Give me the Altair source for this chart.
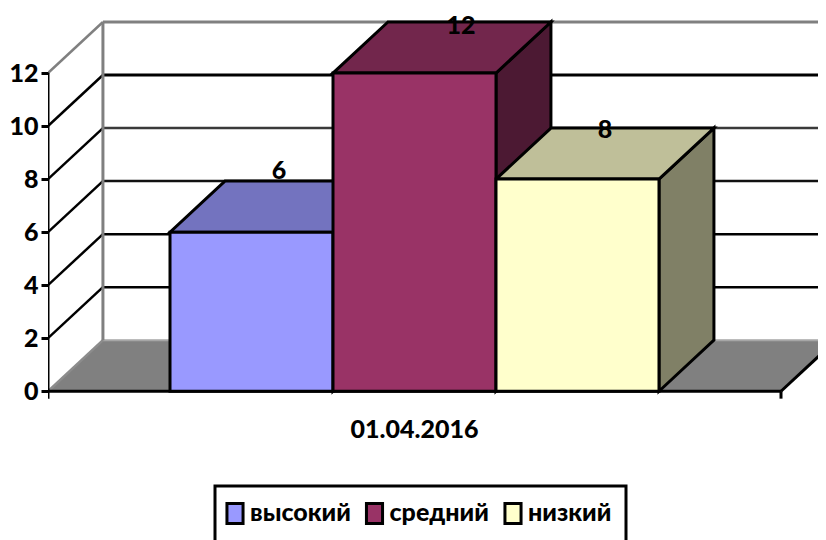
import altair as alt
import pandas as pd

categories = ["высокий", "средний", "низкий"]
values = [6, 12, 8]
front_colors = ["#9999FF", "#993366", "#FFFFCC"]
top_colors = ["#7373BF", "#72264C", "#BFBF99"]
side_colors = ["#4C4C80", "#4C1933", "#808066"]
label_lift = [2.30, 1.77, 1.85]
label_shift = [0.0, 0.117, 0.0]
date_label = "01.04.2016"
levels = [0, 2, 4, 6, 8, 10, 12]
back_line_colors = ["#A6A6A6", "#000000", "#000000", "#111111", "#3A3A3A", "#000000", "#808080"]
back_line_widths = [2, 2.5, 2.5, 2.5, 2.5, 3, 3]
side_line_colors = ["#8C8C8C", "#000000", "#000000", "#000000", "#000000", "#000000", "#808080"]

FONT = "Lato"
FS = 25
WEIGHT = 900
X_MIN, X_END, X_CLIP = -0.7485, 3.7485, 3.9755
Y_MIN, Y_MAX = -1.5, 14.34
DX, DY = 0.337, 1.925
x_scale = alt.Scale(domain=[X_MIN, X_CLIP], nice=False, zero=False)
y_scale = alt.Scale(domain=[Y_MIN, Y_MAX], nice=False, zero=False)
y_axis = alt.Axis(values=levels, title=None, domain=False, grid=False, zindex=1,
                  tickColor="#000000", tickWidth=3, tickSize=7, labelPadding=3,
                  labelFont=FONT, labelFontWeight=WEIGHT, labelFontSize=FS, labelColor="#000000")

X = lambda f="x": alt.X(f"{f}:Q", scale=x_scale, axis=None)
Y = lambda f="y": alt.Y(f"{f}:Q", scale=y_scale, axis=y_axis, stack=None)

# floor
floor = pd.DataFrame({"y": [0, DY], "x": [X_MIN, X_MIN + DX], "x2": [X_END, X_END + DX]})
floor_layer = alt.Chart(floor).mark_area(orient="horizontal", color="#808080", clip=True).encode(
    y=Y(), x=X(), x2=alt.X2("x2:Q"))

# walls and lines
rows = []
for lv, bc, bw, sc in zip(levels, back_line_colors, back_line_widths, side_line_colors):
    rows.append(dict(x=X_MIN + DX, x2=X_CLIP + 0.1, y=lv + DY, y2=lv + DY, c=bc, w=bw))
    rows.append(dict(x=X_MIN, x2=X_MIN + DX, y=lv, y2=lv + DY, c=sc, w=2.5))
rows.append(dict(x=X_MIN + DX, x2=X_MIN + DX, y=DY, y2=12 + DY, c="#808080", w=3))
rows.append(dict(x=X_END, x2=X_END + DX, y=0, y2=DY, c="#000000", w=3))
rows.append(dict(x=X_MIN, x2=X_END, y=0, y2=0, c="#000000", w=3))
rows.append(dict(x=X_MIN, x2=X_MIN, y=-0.28, y2=12, c="#000000", w=3))
rows.append(dict(x=X_END, x2=X_END, y=-0.28, y2=0, c="#000000", w=3))
lines_layer = alt.Chart(pd.DataFrame(rows)).mark_rule(clip=True).encode(
    x=X(), x2=alt.X2("x2:Q"), y=Y(), y2=alt.Y2("y2:Q"),
    color=alt.Color("c:N", scale=None), strokeWidth=alt.StrokeWidth("w:Q", scale=None))

# bars
sides, tops, fronts, labels = [], [], [], []
for i, (cat, v) in enumerate(zip(categories, values)):
    sides += [dict(cat=cat, x=i + 1, y=0, y2=v, c=side_colors[i]),
              dict(cat=cat, x=i + 1 + DX, y=DY, y2=v + DY, c=side_colors[i])]
    tops += [dict(cat=cat, y=v, x=i, x2=i + 1, c=top_colors[i]),
             dict(cat=cat, y=v + DY, x=i + DX, x2=i + 1 + DX, c=top_colors[i])]
    fronts.append(dict(cat=cat, x=i, x2=i + 1, y=0, y2=v))
    labels.append(dict(x=i + 0.5 + DX / 2 + label_shift[i], y=v + label_lift[i], t=str(v)))

stroke = dict(stroke="#000000", strokeWidth=3, strokeJoin="miter")
side_layer = alt.Chart(pd.DataFrame(sides)).mark_area(orient="vertical", **stroke).encode(
    x=X(), y=Y(), y2=alt.Y2("y2:Q"), fill=alt.Fill("c:N", scale=None), detail="cat:N")
top_layer = alt.Chart(pd.DataFrame(tops)).mark_area(orient="horizontal", **stroke).encode(
    y=Y(), x=X(), x2=alt.X2("x2:Q"), fill=alt.Fill("c:N", scale=None), detail="cat:N")
front_layer = alt.Chart(pd.DataFrame(fronts)).mark_rect(**stroke).encode(
    x=X(), x2=alt.X2("x2:Q"), y=Y(), y2=alt.Y2("y2:Q"),
    fill=alt.Fill("cat:N",
                  scale=alt.Scale(domain=categories, range=front_colors),
                  sort=categories,
                  legend=alt.Legend(orient="none", legendX=167, legendY=475, columns=3, title=None,
                                    padding=14, columnPadding=8.5, labelOffset=2, symbolOffset=-7,
                                    symbolType="M-0.7,-0.87H0.7V0.87H-0.7Z", symbolSize=529,
                                    symbolStrokeColor="#000000", symbolStrokeWidth=3,
                                    strokeColor="#000000")))

text = dict(font=FONT, fontWeight=WEIGHT, fontSize=FS, color="#000000")
label_layer = alt.Chart(pd.DataFrame(labels)).mark_text(**text).encode(x=X(), y=Y(), text="t:N")
date_layer = alt.Chart(pd.DataFrame({"x": [1.5], "y": [-1.47], "t": [date_label]})).mark_text(**text).encode(
    x=X(), y=Y(), text="t:N")

chart = alt.layer(floor_layer, lines_layer, side_layer, top_layer, front_layer,
                  label_layer, date_layer).properties(
    width=770, height=420,
    padding={"left": 40, "top": 3, "right": 0, "bottom": 109},
    autosize=alt.AutoSizeParams(type="none"),
).configure_view(stroke=None).configure_legend(
    labelFont=FONT, labelFontWeight=WEIGHT, labelFontSize=FS, labelColor="#000000",
    strokeWidth=3, labelLimit=300)

chart.save("out.html", embed_options={"renderer": "svg", "actions": False})
